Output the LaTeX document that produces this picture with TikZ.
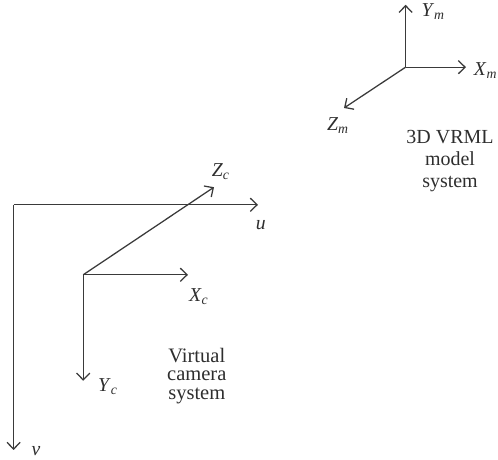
\documentclass[tikz,border=0pt]{standalone}
\usepackage{fontspec}
\setmainfont{Liberation Serif}
\usetikzlibrary{arrows.meta}
\definecolor{dline}{HTML}{3A3A3A}
\definecolor{dtext}{HTML}{2E2E2E}
\newcommand{\axlbl}[2]{\textit{#1}\textsubscript{\textit{#2}}}
\tikzset{
  >={Straight Barb[length=1.7mm,width=3.3mm]},
  daxis/.style={->, dline, line width=0.9pt},
  dlbl/.style={dtext, font=\fontsize{14}{16}\selectfont, inner sep=0pt},
  dnote/.style={dtext, font=\fontsize{14.2}{15.7}\selectfont, align=center, inner sep=0pt},
  dnotetight/.style={dnote, font=\fontsize{14.6}{13.3}\selectfont},
}
\begin{document}
\begin{tikzpicture}[x=1cm,y=1cm]
  \useasboundingbox (0,0) rectangle (12.45,11.5);

  % model frame
  \coordinate (om) at (10.14,9.82);
  \coordinate (xm) at (11.65,9.82);
  \coordinate (ym) at (10.14,11.38);
  \coordinate (zm) at (8.6,8.8);
  \draw[daxis] (om) -- (ym);
  \draw[daxis] (om) -- (xm);
  \draw[daxis] (om) -- (zm);
  \node[dlbl] (lym) at (10.83,11.2) {\axlbl{Y}{m}};
  \node[dlbl] (lxm) at (12.14,9.74) {\axlbl{X}{m}};
  \node[dlbl] (lzm) at (8.45,8.36) {\axlbl{Z}{m}};
  \node[dnote] (model) at (11.25,7.47) {3D VRML\\model\\system};

  % image plane
  \coordinate (oi) at (0.34,6.38);
  \coordinate (ui) at (6.45,6.38);
  \coordinate (vi) at (0.34,0.25);
  \draw[daxis] (oi) -- (ui);
  \draw[daxis] (oi) -- (vi);
  \node[dlbl] (lu) at (6.52,5.87) {\textit{u}};
  \node[dlbl] (lv) at (0.9,0.23) {\textit{v}};

  % camera frame
  \coordinate (oc) at (2.08,4.63);
  \coordinate (xc) at (4.7,4.63);
  \coordinate (yc) at (2.08,1.98);
  \coordinate (zc) at (5.35,6.82);
  \draw[daxis] (oc) -- (xc);
  \draw[daxis] (oc) -- (yc);
  \draw[daxis] (oc) -- (zc);
  \node[dlbl] (lxc) at (4.97,4.08) {\axlbl{X}{c}};
  \node[dlbl] (lyc) at (2.7,1.83) {\axlbl{Y}{c}};
  \node[dlbl] (lzc) at (5.52,7.22) {\axlbl{Z}{c}};
  \node[dnotetight] (camera) at (4.92,2.1) {Virtual\\camera\\system};

\end{tikzpicture}
\end{document}
